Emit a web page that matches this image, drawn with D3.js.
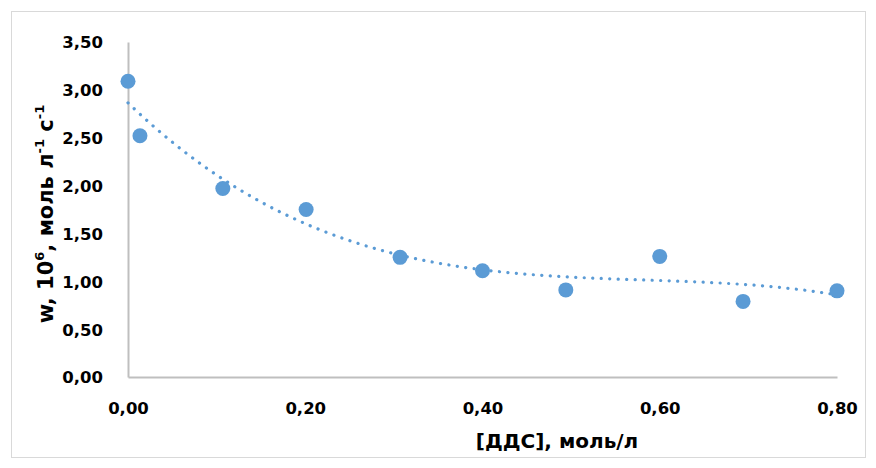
<!DOCTYPE html>
<html><head><meta charset="utf-8">
<script src="https://cdn.jsdelivr.net/npm/d3@7/dist/d3.min.js"></script>
<style>
html,body{margin:0;padding:0;background:#fff;}
svg{display:block;}
text{font-family:"DejaVu Sans",sans-serif;font-weight:bold;fill:#000;}
</style></head>
<body>
<script>
const concX = [0.000, 0.0135, 0.107, 0.201, 0.307, 0.400, 0.494, 0.600, 0.694, 0.800];
const rateY = [3.09, 2.52, 1.97, 1.75, 1.25, 1.11, 0.91, 1.26, 0.79, 0.90];
const xTicks = [0, 0.2, 0.4, 0.6, 0.8];
const yTicks = [0, 0.5, 1.0, 1.5, 2.0, 2.5, 3.0, 3.5];
const trendOrder = 3;

const W = 876, H = 468;
const svg = d3.select("body").append("svg").attr("width", W).attr("height", H);
svg.append("rect").attr("x", 11.5).attr("y", 11.5).attr("width", 854).attr("height", 446)
  .attr("fill", "#fff").attr("stroke", "#d9d9d9");

const x = d3.scaleLinear().domain([0, 0.8]).range([128, 837]);
const y = d3.scaleLinear().domain([0, 3.5]).range([377, 42]);
const fmt = v => d3.format(".2f")(v).replace(".", ",");

// axes
const gy = svg.append("g").attr("transform", "translate(128,0)")
  .call(d3.axisLeft(y).tickValues(yTicks).tickSize(0).tickPadding(25).tickFormat(fmt));
const gx = svg.append("g").attr("transform", "translate(0,377)")
  .call(d3.axisBottom(x).tickValues(xTicks).tickSize(0).tickFormat(fmt));
[gx, gy].forEach(g => {
  g.select(".domain").attr("stroke", "#bfbfbf").attr("stroke-width", 2);
  g.selectAll("text").style("font-size", "16.5px")
    .style("font-family", "'DejaVu Sans', sans-serif").attr("font-weight", "bold").attr("fill", "#000");
});
gx.selectAll("text").attr("y", 37).attr("dy", "0");
gy.selectAll("text").attr("dy", "0.36em");

// least squares polynomial trendline (Excel-style polynomial trendline)
function polyFit(xs, ys, n) {
  const m = n + 1;
  const A = Array.from({length: m}, () => new Array(m + 1).fill(0));
  for (let i = 0; i < xs.length; i++) {
    for (let r = 0; r < m; r++) {
      for (let c = 0; c < m; c++) A[r][c] += Math.pow(xs[i], r + c);
      A[r][m] += ys[i] * Math.pow(xs[i], r);
    }
  }
  for (let k = 0; k < m; k++) {
    let p = k;
    for (let r = k + 1; r < m; r++) if (Math.abs(A[r][k]) > Math.abs(A[p][k])) p = r;
    [A[k], A[p]] = [A[p], A[k]];
    for (let r = 0; r < m; r++) {
      if (r === k) continue;
      const f = A[r][k] / A[k][k];
      for (let c = k; c <= m; c++) A[r][c] -= f * A[k][c];
    }
  }
  return A.map((row, i) => row[m] / row[i]);
}
const coef = polyFit(concX, rateY, trendOrder);
const trendFn = t => coef.reduce((s, c, i) => s + c * Math.pow(t, i), 0);
const tx = d3.range(0, 0.8001, 0.005);
svg.append("path")
  .attr("d", d3.line().x(d => x(d)).y(d => y(trendFn(d)))(tx))
  .attr("fill", "none").attr("stroke", "#5b9bd5").attr("stroke-width", 3.2)
  .attr("stroke-linecap", "round").attr("stroke-dasharray", "0.1 8.4");

// points
svg.append("g").selectAll("circle").data(concX).join("circle")
  .attr("cx", d => x(d)).attr("cy", (d, i) => y(rateY[i])).attr("r", 7.5)
  .attr("fill", "#5b9bd5");

// titles
svg.append("text").attr("x", 557).attr("y", 448).attr("text-anchor", "middle")
  .style("font-size", "20px").text("[ДДС], моль/л");
const yt = svg.append("text").attr("transform", "translate(53,214) rotate(-90)")
  .attr("text-anchor", "middle").style("font-size", "21px");
yt.append("tspan").text("w, 10");
yt.append("tspan").attr("dy", -9).style("font-size", "13px").text("6");
yt.append("tspan").attr("dy", 9).text(", моль л");
yt.append("tspan").attr("dy", -9).style("font-size", "13px").text("-1");
yt.append("tspan").attr("dy", 9).text(" с");
yt.append("tspan").attr("dy", -9).style("font-size", "13px").text("-1");
</script>
</body></html>
